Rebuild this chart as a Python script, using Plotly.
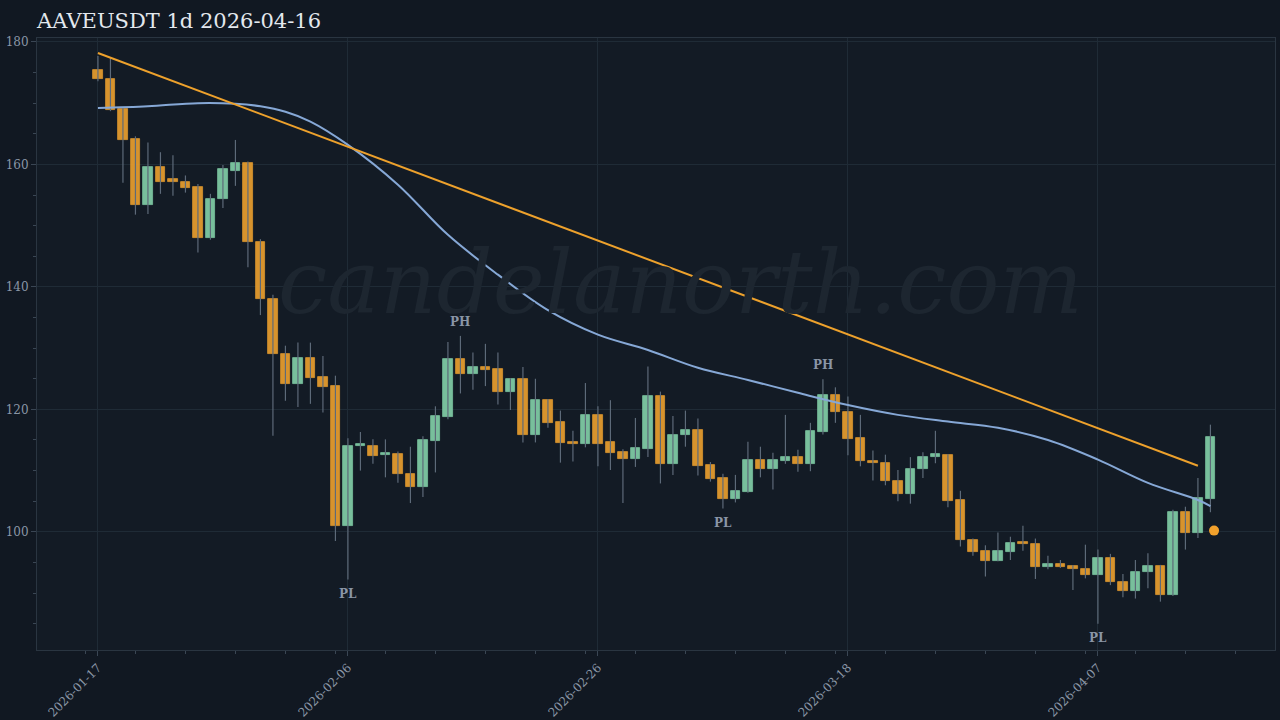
import pandas as pd
import plotly.graph_objects as go

# daily candles 2026-01-17 .. 2026-04-16
dates = pd.date_range("2026-01-17", periods=90, freq="D")
opens = [175.5, 174.0, 169.0, 164.1, 153.3, 159.6, 157.4, 157.2, 156.3, 148.0,
         154.3, 159.0, 160.3, 147.3, 138.1, 129.0, 124.2, 128.4, 125.3, 123.8,
         100.9, 114.0, 114.0, 112.5, 112.7, 109.4, 107.4, 114.9, 118.8, 128.2,
         125.7, 127.0, 126.6, 122.9, 124.9, 115.8, 121.5, 117.9, 114.6, 114.3,
         119.1, 114.6, 113.0, 111.9, 113.6, 122.2, 111.1, 115.8, 116.7, 110.9,
         108.8, 105.4, 106.5, 111.8, 110.2, 111.5, 112.2, 111.1, 116.3, 122.3,
         119.6, 115.3, 111.6, 111.2, 108.3, 106.2, 110.2, 112.3, 112.6, 105.2,
         98.7, 96.8, 95.3, 96.7, 98.1, 98.0, 94.2, 94.7, 94.4, 94.0,
         92.9, 95.7, 91.8, 90.4, 93.5, 94.5, 89.7, 103.2, 99.8, 105.4]
highs = [177.7, 177.4, 169.2, 164.6, 163.6, 162.0, 161.5, 158.2, 156.8, 155.2,
         159.9, 164.0, 160.5, 147.8, 138.7, 130.4, 130.9, 130.9, 128.7, 125.5,
         115.3, 116.3, 115.1, 115.1, 113.1, 113.9, 115.6, 120.5, 131.0, 132.0,
         129.3, 130.7, 129.3, 125.1, 126.9, 125.0, 121.7, 119.8, 116.5, 124.3,
         120.5, 121.5, 113.5, 118.6, 127.0, 122.9, 118.9, 119.8, 118.5, 111.4,
         109.5, 109.3, 114.7, 113.9, 112.9, 119.1, 113.4, 117.8, 124.9, 123.6,
         122.1, 119.1, 113.3, 112.6, 110.1, 112.2, 113.0, 116.5, 112.7, 106.7,
         98.9, 97.8, 99.9, 99.2, 101.0, 98.9, 96.1, 95.4, 94.6, 97.9,
         97.1, 96.4, 93.1, 95.4, 96.5, 94.6, 103.6, 104.1, 108.8, 117.5]
lows = [173.6, 168.7, 157.0, 151.8, 151.9, 155.2, 154.9, 155.4, 145.6, 147.7,
        152.9, 156.5, 143.2, 135.4, 115.7, 121.4, 120.4, 120.9, 119.5, 98.5,
        92.2, 110.0, 111.1, 108.9, 108.0, 104.7, 105.7, 109.7, 118.4, 122.6,
        123.2, 123.8, 120.8, 119.9, 114.6, 114.6, 117.0, 111.3, 111.5, 113.8,
        110.7, 110.1, 104.7, 110.6, 112.2, 107.9, 109.3, 113.9, 109.2, 108.2,
        103.8, 104.8, 106.4, 108.9, 106.9, 111.1, 109.8, 109.9, 115.9, 117.8,
        112.5, 110.7, 108.4, 107.6, 105.0, 104.6, 108.8, 111.2, 104.0, 97.6,
        96.1, 92.7, 95.2, 95.4, 96.9, 92.3, 93.9, 94.1, 90.5, 92.4,
        85.0, 91.3, 89.3, 89.1, 90.8, 88.6, 89.5, 97.1, 99.0, 103.2]
closes = [173.9, 168.9, 164.0, 153.3, 159.6, 157.2, 157.2, 156.2, 148.0, 154.3,
          159.2, 160.3, 147.3, 138.0, 129.0, 124.2, 128.4, 125.2, 123.7, 100.9,
          114.0, 114.0, 112.4, 112.7, 109.4, 107.4, 115.0, 118.9, 128.2, 125.7,
          127.0, 126.5, 122.9, 124.9, 115.8, 121.5, 117.8, 114.5, 114.3, 119.1,
          114.4, 112.9, 111.9, 113.7, 122.2, 111.1, 115.8, 116.7, 110.8, 108.7,
          105.4, 106.6, 111.8, 110.2, 111.7, 112.2, 111.1, 116.4, 122.3, 119.5,
          115.2, 111.5, 111.2, 108.3, 106.2, 110.2, 112.3, 112.6, 105.1, 98.6,
          96.7, 95.3, 96.8, 98.2, 98.0, 94.2, 94.7, 94.3, 94.0, 92.9,
          95.7, 91.8, 90.4, 93.5, 94.4, 89.7, 103.2, 99.8, 105.5, 115.5]

# smoothed average line, read at a few points
ma_idx = [0, 4, 8, 11, 13, 15, 17, 20, 24, 28, 32, 36, 40, 44, 48, 52, 56, 60,
          64, 68, 72, 76, 80, 84, 88, 89]
ma_val = [169.2, 169.5, 170.0, 169.9, 169.5, 168.6, 167.0, 163.2, 156.7, 148.5, 142.0,
          136.2, 132.2, 129.7, 126.8, 124.8, 122.7, 120.7, 119.1, 118.0, 117.0,
          115.0, 111.8, 108.0, 105.2, 104.2]

# falling trend line
trend_idx = [0, 88]
trend_val = [178.2, 110.8]

# pivot labels: (index, label)
pivots = [(20, "PL"), (29, "PH"), (50, "PL"), (58, "PH"), (80, "PL")]

last_dot_price = 100.2

ORANGE = "#e29a2e"
GREEN = "#7ec8a3"
WICK = "#5d6a79"
GRID = "#1f2b36"
TXT = "#8a96a6"
SERIF = "DejaVu Serif"

fig = go.Figure()

# wicks
wx, wy = [], []
for d, h, l in zip(dates, highs, lows):
    wx += [d, d, None]
    wy += [h, l, None]
fig.add_trace(go.Scatter(x=wx, y=wy, mode="lines", line=dict(color=WICK, width=1.2),
                         hoverinfo="skip", showlegend=False))

# bodies
base = [min(o, c) for o, c in zip(opens, closes)]
height = [max(abs(c - o), 0.35) for o, c in zip(opens, closes)]
cols = [GREEN if c >= o else ORANGE for o, c in zip(opens, closes)]
fig.add_trace(go.Bar(x=dates, y=height, base=base, marker_color=cols,
                     marker_line=dict(color=cols, width=0.8), opacity=0.95,
                     width=0.75 * 86400000, showlegend=False))

fig.add_trace(go.Scatter(x=[dates[i] for i in ma_idx], y=ma_val, mode="lines",
                         line=dict(color="#86a8d6", width=2, shape="spline"),
                         showlegend=False))
fig.add_trace(go.Scatter(x=[dates[i] for i in trend_idx], y=trend_val, mode="lines",
                         line=dict(color="#eda12c", width=2), showlegend=False))
fig.add_trace(go.Scatter(x=[dates[-1] + pd.Timedelta(hours=7)], y=[last_dot_price],
                         mode="markers", marker=dict(color="#f2a12c", size=10),
                         showlegend=False))

for i, lab in pivots:
    if lab == "PH":
        fig.add_annotation(x=dates[i], y=highs[i], text="<b>PH</b>", showarrow=False,
                           yshift=14, font=dict(family=SERIF, size=12, color=TXT))
    else:
        fig.add_annotation(x=dates[i], y=lows[i], text="<b>PL</b>", showarrow=False,
                           yshift=-14, font=dict(family=SERIF, size=12, color=TXT))

fig.add_annotation(x=0.52, y=0.6, xref="paper", yref="paper", text="<i>candelanorth.com</i>",
                   showarrow=False, font=dict(family=SERIF, size=88, color="#1d2630"))

fig.update_layout(
    width=1280, height=720,
    paper_bgcolor="#111822", plot_bgcolor="#131b25",
    margin=dict(l=37, r=5, t=38, b=70),
    bargap=0,
    title=dict(text="AAVEUSDT 1d 2026-04-16", x=0.029, y=0.982, xanchor="left",
               font=dict(family=SERIF, size=21, color="#e3e8ee")),
    font=dict(family=SERIF, color=TXT, size=12),
)
fig.update_xaxes(range=["2026-01-12 03:00", "2026-04-21 04:00"], automargin=False,
                 tickvals=pd.date_range("2026-01-17", periods=5, freq="20D"),
                 tickformat="%Y-%m-%d", tickangle=-45, showgrid=True, gridcolor=GRID,
                 ticks="outside", tickcolor="#3a4654", ticklen=5,
                 minor=dict(dtick=4 * 86400000, ticks="outside", ticklen=3, tickcolor="#3a4654"),
                 showline=True, linecolor="#2a3541", mirror=True, zeroline=False)
fig.update_yaxes(range=[80.7, 180.65], tickvals=[100, 120, 140, 160, 180], automargin=False,
                 showgrid=True, gridcolor=GRID, ticks="outside", tickcolor="#3a4654",
                 ticklen=5, minor=dict(dtick=5, ticks="outside", ticklen=3, tickcolor="#3a4654"),
                 showline=True, linecolor="#2a3541", mirror=True, zeroline=False)

fig.write_html("out.html", config={"displayModeBar": False},
               post_script="document.body.style.margin='0';")
